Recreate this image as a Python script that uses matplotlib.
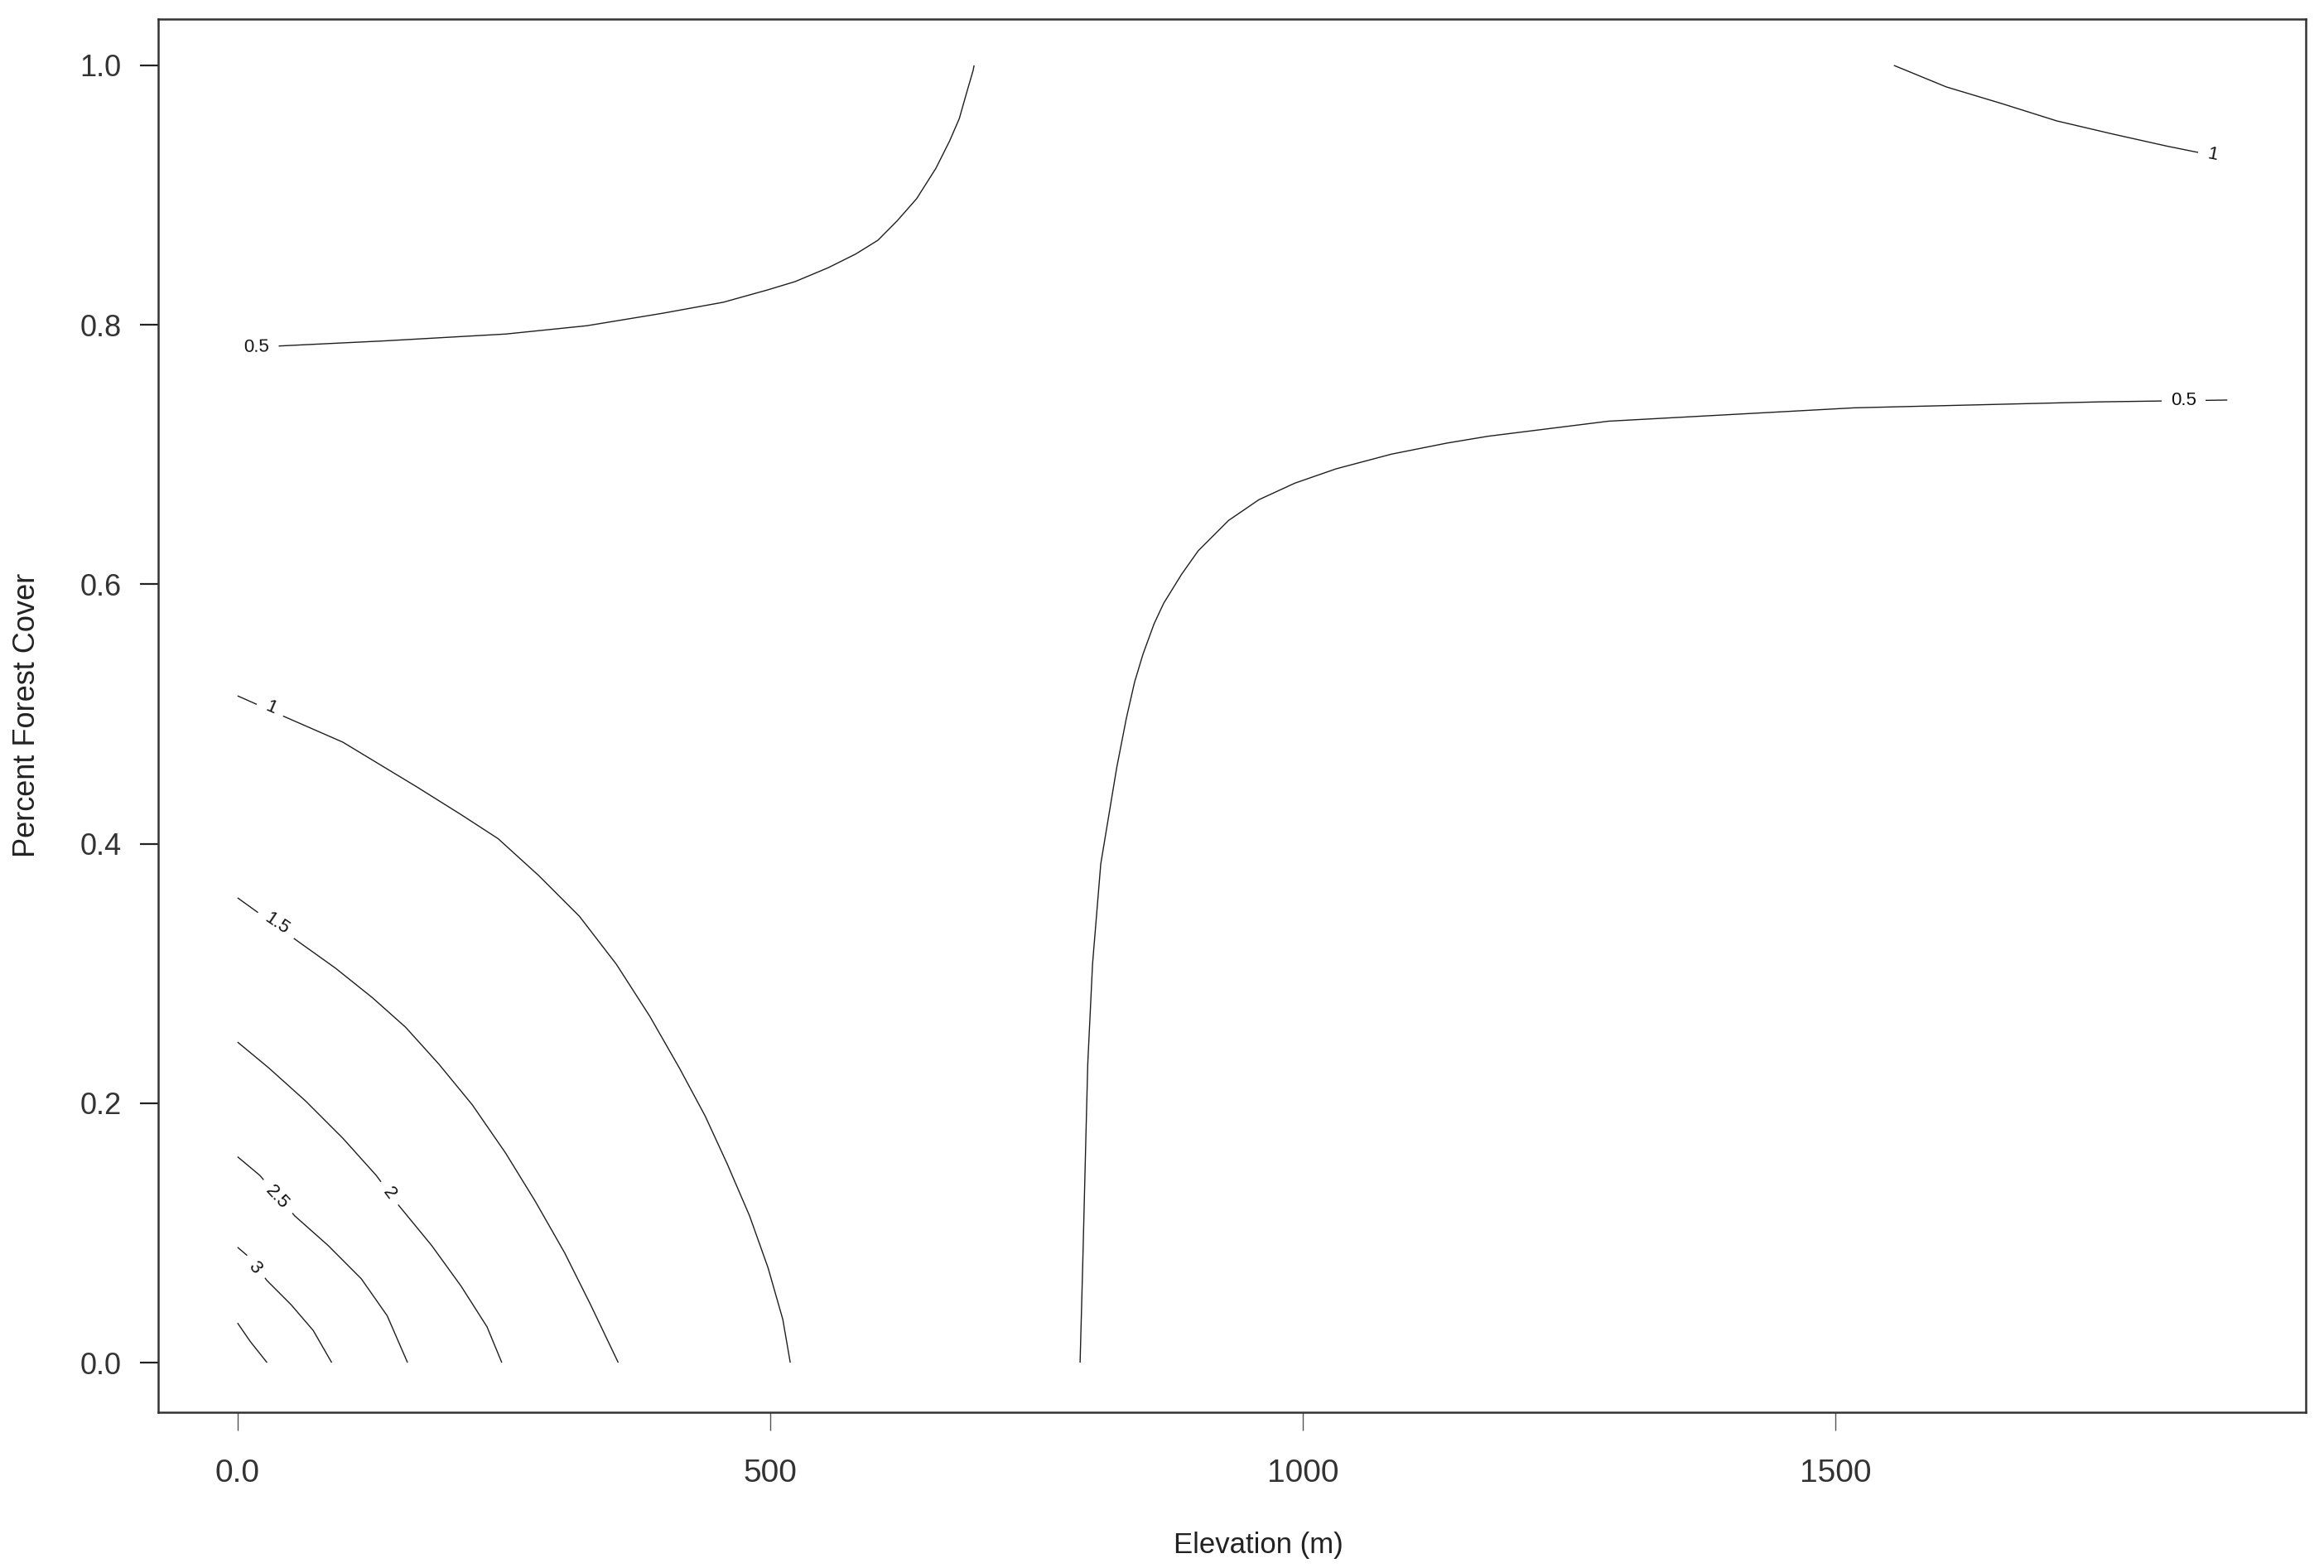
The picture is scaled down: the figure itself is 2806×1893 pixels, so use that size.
import matplotlib
matplotlib.use('Agg')
import matplotlib.pyplot as plt
import numpy as np

plt.rcParams['font.family'] = ['Liberation Sans', 'DejaVu Sans']

# --- contour lines (elevation m, forest cover) ---

# 0.5 level, upper-left branch
c05a_x = [0, 46.8, 137.5, 251.8, 328, 399, 456, 497.6, 523.4, 554.5, 580.4, 601.2, 619.3,
          637.5, 655.6, 668.6, 677.6, 684.2, 690.6, 691.5]
c05a_y = [0.782, 0.784, 0.7876, 0.7929, 0.7993, 0.8089, 0.8174, 0.8269, 0.8333, 0.844, 0.8546,
          0.8652, 0.8802, 0.8972, 0.9206, 0.9419, 0.959, 0.9781, 0.9962, 1.0]

# 0.5 level, middle/right branch
c05b_x = [791, 793.5, 796.6, 798.2, 802.7, 810.4, 825.4, 834.5, 842.2, 850, 860.4, 869.5,
          886.3, 901.9, 930.4, 958.9, 992.5, 1031.4, 1083.3, 1135.2, 1174, 1287, 1517.5, 1748, 1868]
c05b_y = [0.0, 0.0764, 0.179, 0.2303, 0.3073, 0.3844, 0.4587, 0.497, 0.5247, 0.546, 0.5694,
          0.5854, 0.6077, 0.6258, 0.6492, 0.6652, 0.6779, 0.689, 0.7003, 0.7088, 0.7141, 0.7257,
          0.736, 0.7406, 0.742]

# 1 level, lower-left
c1a_x = [0, 45, 98.8, 168.3, 209.9, 244.6, 282.8, 321, 355.7, 387, 414.8, 439, 459.8, 480.7,
         498, 511.9, 518.9]
c1a_y = [0.514, 0.4976, 0.4783, 0.4438, 0.4224, 0.4039, 0.3754, 0.344, 0.307, 0.267, 0.2271,
         0.1901, 0.153, 0.1131, 0.0732, 0.0333, 0.0]

# 1 level, upper-right
c1b_x = [1555, 1604.2, 1656.1, 1707.9, 1759.8, 1811.6, 1840, 1862]
c1b_y = [1.0, 0.9834, 0.9706, 0.9572, 0.9472, 0.9377, 0.933, 0.931]

c15_x = [0, 55.4, 91.9, 126.6, 157.8, 189.1, 220.4, 251.6, 279.4, 307.1, 331.4, 357.4]
c15_y = [0.3583, 0.3255, 0.3041, 0.2813, 0.2585, 0.23, 0.1987, 0.1616, 0.1245, 0.0846, 0.0447, 0.0]

c2_x = [0, 29.4, 64.1, 98.8, 130.1, 150.9, 182.2, 209.9, 234.2, 248.1]
c2_y = [0.2471, 0.2271, 0.2015, 0.173, 0.1444, 0.1216, 0.0903, 0.0589, 0.0276, 0.0]

c25_x = [0, 20.8, 53.7, 85, 116.2, 140.5, 159.6]
c25_y = [0.1587, 0.1444, 0.1131, 0.0903, 0.0646, 0.0361, 0.0]

c3_x = [0, 10.3, 27.7, 50.2, 71.1, 88.4]
c3_y = [0.0889, 0.0817, 0.0632, 0.0447, 0.0247, 0.0]

c35_x = [0, 12, 27.7]
c35_y = [0.0305, 0.0162, 0.0]

# contour labels: text, x, y, angle
lab_text = ['0.5', '0.5', '1', '1', '1.5', '2', '2.5', '3']
lab_x = [18, 1827, 1854, 31.2, 37.1, 142.2, 37.1, 16.3]
lab_y = [0.7825, 0.7415, 0.9312, 0.5045, 0.3383, 0.1302, 0.1274, 0.0732]
lab_rot = [1, 0, -11, -23.6, -34, -53, -47, -51]

xticks = [0, 500, 1000, 1500]
xtick_labels = ['0.0', '500', '1000', '1500']
yticks = [0.0, 0.2, 0.4, 0.6, 0.8, 1.0]
ytick_labels = ['0.0', '0.2', '0.4', '0.6', '0.8', '1.0']

W, H = 2806, 1893
fig = plt.figure(figsize=(W / 100, H / 100), dpi=100)
ax = fig.add_axes([191 / W, 1 - 1705 / H, (2784 - 191) / W, (1705 - 22.7) / H])

lines = [(c05a_x, c05a_y), (c05b_x, c05b_y), (c1a_x, c1a_y), (c1b_x, c1b_y),
         (c15_x, c15_y), (c2_x, c2_y), (c25_x, c25_y), (c3_x, c3_y), (c35_x, c35_y)]
for lx, ly in lines:
    ax.plot(lx, ly, color='#1e1e1e', lw=1.0, solid_capstyle='butt', solid_joinstyle='round')

# labels sit in a white box so the line is broken under them, like R's contour()
for t, tx, ty, r in zip(lab_text, lab_x, lab_y, lab_rot):
    ax.text(tx, ty, t, fontsize=16, rotation=r, ha='center', va='center',
            color='#111111', zorder=5,
            bbox=dict(boxstyle='square,pad=0.5', facecolor='white', edgecolor='none'))

ax.set_xlim(-74.5, 1941.7)
ax.set_ylim(-0.0383, 1.0359)

ax.set_xticks(xticks)
ax.set_xticklabels(xtick_labels)
ax.set_yticks(yticks)
ax.set_yticklabels(ytick_labels)
ax.tick_params(axis='x', length=16, width=1.0, color='#555555', labelsize=28, pad=24, labelcolor='#333333')
ax.tick_params(axis='y', length=16, width=1.6, color='#222222', labelsize=26, pad=16, labelcolor='#333333')

for s in ax.spines.values():
    s.set_linewidth(1.8)
    s.set_color('#333333')

ax.set_xlabel('Elevation (m)', fontsize=25, color='#222222')
ax.xaxis.set_label_coords((1519 - 191) / (2784 - 191), (1705 - 1865) / (1705 - 22.7))
ax.xaxis.label.set_va('center')
ax.set_ylabel('Percent Forest Cover', fontsize=26, color='#222222')
ax.yaxis.set_label_coords((33 - 191) / (2784 - 191), 0.5)
ax.yaxis.label.set_va('center')

fig.savefig('out.png', dpi=100, facecolor='white')
